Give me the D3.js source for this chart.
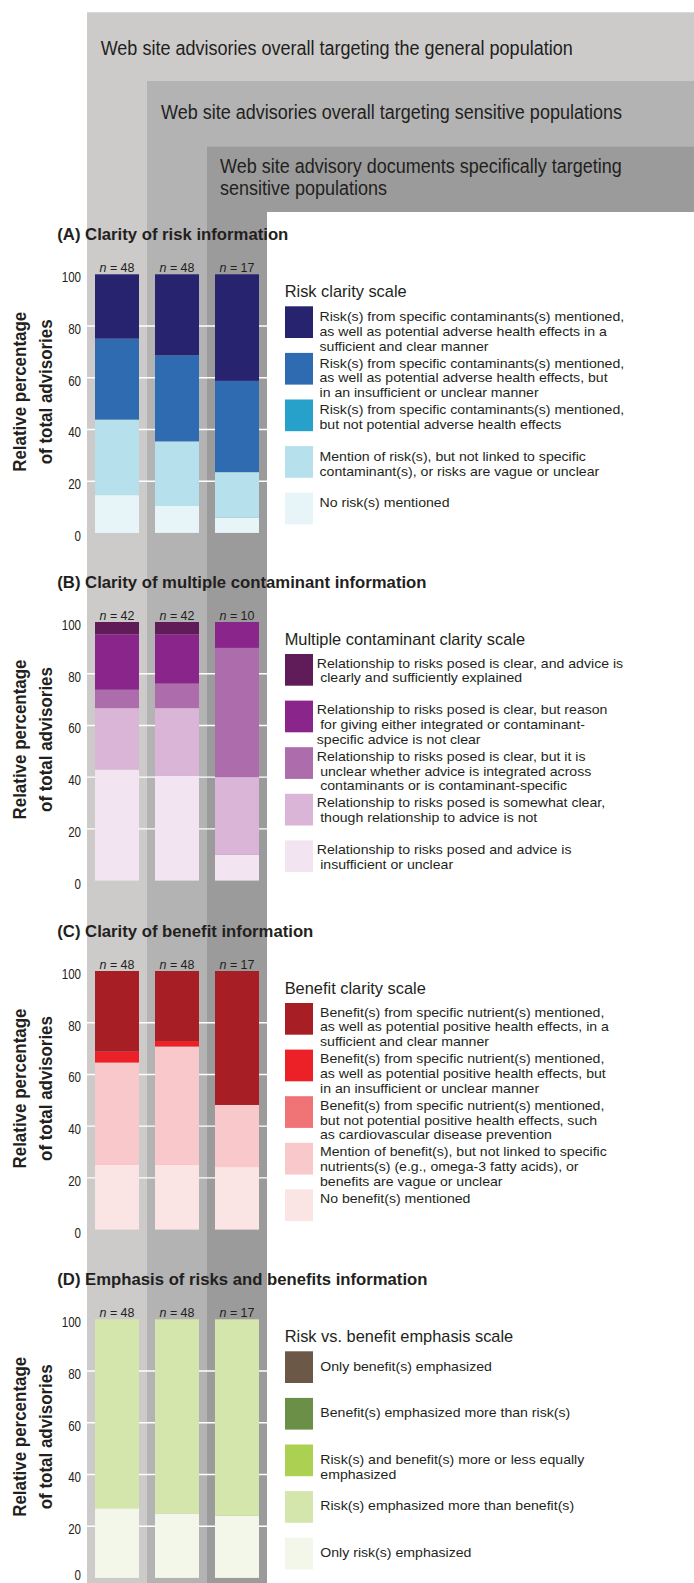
<!DOCTYPE html>
<html><head><meta charset="utf-8">
<script src="https://cdn.jsdelivr.net/npm/d3@7"></script>
<style>
html,body{margin:0;padding:0;background:#fff;}
svg{display:block;}
text{font-family:"Liberation Sans",Arial,sans-serif; fill:#231f20;}
</style></head><body><div id="chart"></div>
<script>
// ---------- DATA ----------
const groups = ["General population (overall)", "Sensitive populations (overall)", "Sensitive-population documents"];
const headerLabels = [
  ["Web site advisories overall targeting the general population"],
  ["Web site advisories overall targeting sensitive populations"],
  ["Web site advisory documents specifically targeting", "sensitive populations"]
];
const yTicks = [0, 20, 40, 60, 80, 100];
const gridTicks = [20, 40, 60, 80];
const yTitle = ["Relative percentage", "of total advisories"];

// (A) Clarity of risk information  (percent, bottom category first)
const titleA = "(A) Clarity of risk information";
const nA = [48, 48, 17];
const riskNone = [14.6, 10.4, 5.9];
const riskVague = [29.2, 25.0, 17.6];
const riskNoEffects = [0, 0, 0];
const riskUnclear = [31.3, 33.3, 35.3];
const riskClear = [24.9, 31.3, 41.2];
const legendTitleA = "Risk clarity scale";
const legendA = [
  ["Risk(s) from specific contaminants(s) mentioned,", "as well as potential adverse health effects in a", "sufficient and clear manner"],
  ["Risk(s) from specific contaminants(s) mentioned,", "as well as potential adverse health effects, but", "in an insufficient or unclear manner"],
  ["Risk(s) from specific contaminants(s) mentioned,", "but not potential adverse health effects"],
  ["Mention of risk(s), but not linked to specific", "contaminant(s), or risks are vague or unclear"],
  ["No risk(s) mentioned"]
];

// (B) Clarity of multiple contaminant information
const titleB = "(B) Clarity of multiple contaminant information";
const nB = [42, 42, 10];
const multiInsufficient = [42.9, 40.5, 10];
const multiSomewhat = [23.8, 26.2, 30];
const multiUnclear = [7.1, 9.5, 50];
const multiReason = [21.4, 19.0, 10];
const multiClear = [4.8, 4.8, 0];
const legendTitleB = "Multiple contaminant clarity scale";
const legendB = [
  ["Relationship to risks posed is clear, and advice is", " clearly and sufficiently explained"],
  ["Relationship to risks posed is clear, but reason", " for giving either integrated or contaminant-", "specific advice is not clear"],
  ["Relationship to risks posed is clear, but it is", " unclear whether advice is integrated across", " contaminants or is contaminant-specific"],
  ["Relationship to risks posed is somewhat clear,", " though relationship to advice is not"],
  ["Relationship to risks posed and advice is", " insufficient or unclear"]
];

// (C) Clarity of benefit information
const titleC = "(C) Clarity of benefit information";
const nC = [48, 48, 17];
const benefitNone = [25.0, 25.0, 24.2];
const benefitVague = [39.6, 45.8, 24.0];
const benefitNoEffects = [0, 0, 0];
const benefitUnclear = [4.2, 2.1, 0];
const benefitClear = [31.2, 27.1, 51.8];
const legendTitleC = "Benefit clarity scale";
const legendC = [
  ["Benefit(s) from specific nutrient(s) mentioned,", "as well as potential positive health effects, in a", "sufficient and clear manner"],
  ["Benefit(s) from specific nutrient(s) mentioned,", "as well as potential positive health effects, but", "in an insufficient or unclear manner"],
  ["Benefit(s) from specific nutrient(s) mentioned,", "but not potential positive health effects, such", "as cardiovascular disease prevention"],
  ["Mention of benefit(s), but not linked to specific", "nutrients(s) (e.g., omega-3 fatty acids), or", "benefits are vague or unclear"],
  ["No benefit(s) mentioned"]
];

// (D) Emphasis of risks and benefits information
const titleD = "(D) Emphasis of risks and benefits information";
const nD = [48, 48, 17];
const onlyRisk = [26.9, 24.9, 24.0];
const riskMore = [73.1, 75.1, 76.0];
const equalEmphasis = [0, 0, 0];
const benefitMore = [0, 0, 0];
const onlyBenefit = [0, 0, 0];
const legendTitleD = "Risk vs. benefit emphasis scale";
const legendD = [
  ["Only benefit(s) emphasized"],
  ["Benefit(s) emphasized more than risk(s)"],
  ["Risk(s) and benefit(s) more or less equally", "emphasized"],
  ["Risk(s) emphasized more than benefit(s)"],
  ["Only risk(s) emphasized"]
];

// ---------- COLOURS ----------
const colorsA = ["#e8f5f8", "#b6e0ec", "#28a1ca", "#2f6bb0", "#27236f"];
const colorsB = ["#f2e5f1", "#dab5d8", "#ad6cab", "#8a268b", "#601b59"];
const colorsC = ["#fbe4e4", "#f8c8ca", "#f07476", "#ec2128", "#a81e25"];
const colorsD = ["#f3f7ea", "#d5e6ad", "#acd152", "#6b8f47", "#6c5847"];
const bgColors = ["#cccbca", "#b3b3b3", "#9b9b9b"];
const ink = "#231f20";

// ---------- BUILD ----------
const panels = [
  {title: titleA, n: nA, values: [riskNone, riskVague, riskNoEffects, riskUnclear, riskClear], colors: colorsA, legendTitle: legendTitleA, legend: legendA, y100: 274.3, textOff: 14.6, textX: 319.5},
  {title: titleB, n: nB, values: [multiInsufficient, multiSomewhat, multiUnclear, multiReason, multiClear], colors: colorsB, legendTitle: legendTitleB, legend: legendB, y100: 622, textOff: 13.6, textX: 316.8},
  {title: titleC, n: nC, values: [benefitNone, benefitVague, benefitNoEffects, benefitUnclear, benefitClear], colors: colorsC, legendTitle: legendTitleC, legend: legendC, y100: 971, textOff: 13.6, textX: 320},
  {title: titleD, n: nD, values: [onlyRisk, riskMore, equalEmphasis, benefitMore, onlyBenefit], colors: colorsD, legendTitle: legendTitleD, legend: legendD, y100: 1319.3, textOff: 19.2, textX: 320.3}
];
const plotH = 258.6;
const legendFont = 13.5, legendLead = 14.8;

const W = 694, H = 1583;
const svg = d3.select("#chart").append("svg").attr("width", W).attr("height", H);
svg.append("rect").attr("width", W).attr("height", H).attr("fill", "#fff");

const x = d3.scaleBand().domain(groups).range([87, 267]).paddingInner(16 / 60).paddingOuter(8 / 60);
const colLeft = i => x(groups[i]) - x.step() * x.paddingOuter();
const boxTops = [12.3, 81, 146.7];
groups.forEach((gname, i) => {
  svg.append("rect").attr("x", colLeft(i)).attr("y", boxTops[i])
    .attr("width", W - colLeft(i)).attr("height", H - boxTops[i]).attr("fill", bgColors[i]);
});
svg.append("rect").attr("x", x.range()[1]).attr("y", 212).attr("width", W).attr("height", H).attr("fill", "#fff");

// header labels
const headerPos = [[100.7, 55], [161, 119.3], [220, 172.7]];
headerLabels.forEach((lines, i) => {
  const t = svg.append("text").attr("font-size", 19.5);
  lines.forEach((s, j) => {
    t.append("tspan").attr("class", "fit-header").attr("x", headerPos[i][0]).attr("y", headerPos[i][1] + j * 22.6).text(s);
  });
});

panels.forEach(p => {
  const y = d3.scaleLinear().domain([0, 100]).range([p.y100 + plotH, p.y100]);
  const g = svg.append("g");
  g.selectAll("line.grid").data(gridTicks).join("line").attr("class", "grid")
    .attr("x1", x.range()[0] - 1).attr("x2", x.range()[1])
    .attr("y1", d => y(d)).attr("y2", d => y(d))
    .attr("stroke", "#ffffff").attr("stroke-width", 1.4);

  const keys = p.values.map((v, j) => "k" + j);
  const table = groups.map((gname, i) => {
    const o = {group: gname};
    keys.forEach((k, j) => o[k] = p.values[j][i]);
    return o;
  });
  const series = d3.stack().keys(keys)(table);
  g.selectAll("g.series").data(series).join("g").attr("class", "series")
    .attr("fill", (d, i) => p.colors[i])
    .selectAll("rect").data(d => d).join("rect")
    .attr("x", d => x(d.data.group)).attr("width", x.bandwidth())
    .attr("y", d => y(d[1])).attr("height", d => Math.max(0, y(d[0]) - y(d[1])));

  // y axis
  const ax = g.append("g").attr("transform", "translate(84,0)")
    .call(d3.axisLeft(y).tickValues(yTicks).tickSize(0).tickPadding(3));
  ax.select(".domain").remove();
  ax.attr("font-family", null).attr("font-size", 14);
  ax.selectAll("text").attr("class", "fit-tick").attr("fill", ink)
    .attr("dy", d => (y(d) + 10.5 > H ? "0.1em" : "0.53em"));

  // n labels
  groups.forEach((gname, i) => {
    const t = g.append("text").attr("class", "fit-n").attr("x", x(gname) + x.bandwidth() / 2)
      .attr("y", y(100) - 2.3).attr("text-anchor", "middle").attr("font-size", 12.5);
    t.append("tspan").attr("font-style", "italic").text("n");
    t.append("tspan").text(" = " + p.n[i]);
  });

  // panel title
  g.append("text").attr("class", "fit-title").attr("x", 57.3).attr("y", p.y100 - 34)
    .attr("font-size", 16.5).attr("font-weight", "bold").text(p.title);

  // axis title
  const yc = p.y100 + 117.5;
  const at = g.append("text").attr("transform", `translate(26,${yc}) rotate(-90)`)
    .attr("text-anchor", "middle").attr("font-size", 18).attr("font-weight", "bold");
  yTitle.forEach((s, j) => {
    at.append("tspan").attr("class", "fit-axis").attr("x", 0).attr("y", j * 26.3).text(s);
  });

  // legend
  g.append("text").attr("class", "fit-ltitle").attr("x", 284.7).attr("y", p.y100 + 23)
    .attr("font-size", 17).text(p.legendTitle);
  const topDown = p.colors.slice().reverse();
  p.legend.forEach((lines, i) => {
    const sy = p.y100 + 32 + 46.6 * i;
    g.append("rect").attr("x", 285).attr("y", sy).attr("width", 28).attr("height", 31.7).attr("fill", topDown[i]);
    const t = g.append("text").attr("font-size", legendFont);
    lines.forEach((s, j) => {
      const lead = s.startsWith(" ");
      t.append("tspan").attr("class", "fit-legend").attr("x", p.textX + (lead ? 3.4 : 0))
        .attr("y", sy + p.textOff + j * legendLead).text(s.trim());
    });
  });
});

// ---------- width fitting to match condensed reference typeface ----------
function measure(str, size, weight) {
  const t = svg.append("text").attr("font-size", size).attr("font-weight", weight || "normal").text(str);
  const w = t.node().getComputedTextLength();
  t.remove();
  return w;
}
const fits = [
  ["fit-header", "Web site advisories overall targeting the general population", 19.5, "normal", 472],
  ["fit-title", "(A) Clarity of risk information", 16.5, "bold", 231],
  ["fit-axis", "Relative percentage", 18, "bold", 160],
  ["fit-tick", "100", 14, "normal", 19.3],
  ["fit-n", "n = 48", 12.5, "normal", 35],
  ["fit-ltitle", "Risk clarity scale", 17, "normal", 122],
  ["fit-legend", "Risk(s) from specific contaminants(s) mentioned,", legendFont, "normal", 304.7]
];
fits.forEach(([cls, ref, size, weight, target]) => {
  const k = target / measure(ref, size, weight);
  svg.selectAll("." + cls).each(function () {
    const w = this.getComputedTextLength();
    d3.select(this).attr("textLength", w * k).attr("lengthAdjust", "spacingAndGlyphs");
  });
});
</script></body></html>
